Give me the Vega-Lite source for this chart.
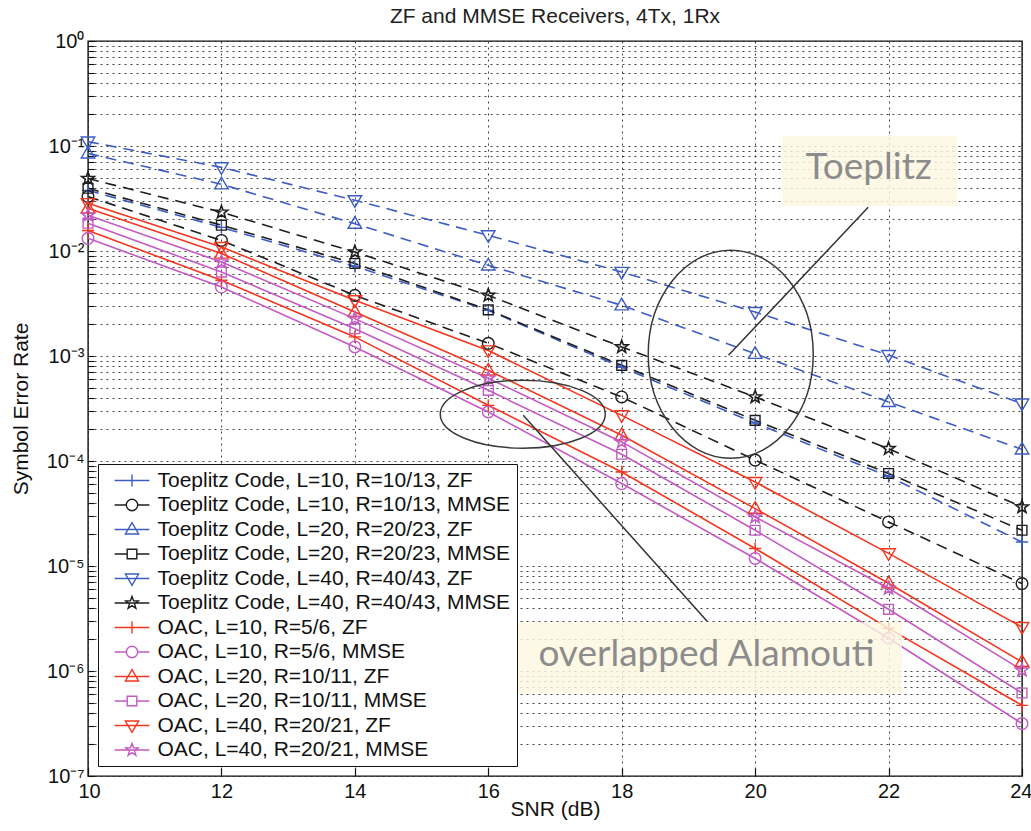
{
  "$schema": "https://vega.github.io/schema/vega-lite/v6.json",
  "width": 934,
  "height": 735,
  "autosize": {"type": "none"},
  "padding": {"left": 88, "top": 41, "right": 9, "bottom": 55},
  "background": "white",
  "config": {
    "font": "Liberation Sans",
    "view": {"stroke": "#111", "strokeWidth": 1.4}
  },
  "title": {
    "text": "ZF and MMSE Receivers, 4Tx, 1Rx",
    "font": "Liberation Sans",
    "fontSize": 21,
    "fontWeight": "normal",
    "color": "#222",
    "anchor": "middle",
    "offset": 4
  },
  "datasets": {
    "ser": [
      {"series": "Toeplitz Code, L=10, R=10/13, ZF", "snr": 10, "ser": 0.0378},
      {"series": "Toeplitz Code, L=10, R=10/13, ZF", "snr": 12, "ser": 0.0168},
      {"series": "Toeplitz Code, L=10, R=10/13, ZF", "snr": 14, "ser": 0.00715},
      {"series": "Toeplitz Code, L=10, R=10/13, ZF", "snr": 16, "ser": 0.00272},
      {"series": "Toeplitz Code, L=10, R=10/13, ZF", "snr": 18, "ser": 0.00078},
      {"series": "Toeplitz Code, L=10, R=10/13, ZF", "snr": 20, "ser": 0.00023},
      {"series": "Toeplitz Code, L=10, R=10/13, ZF", "snr": 22, "ser": 0.0000715},
      {"series": "Toeplitz Code, L=10, R=10/13, ZF", "snr": 24, "ser": 0.0000169},
      {"series": "Toeplitz Code, L=10, R=10/13, MMSE", "snr": 10, "ser": 0.033},
      {"series": "Toeplitz Code, L=10, R=10/13, MMSE", "snr": 12, "ser": 0.0126},
      {"series": "Toeplitz Code, L=10, R=10/13, MMSE", "snr": 14, "ser": 0.00378},
      {"series": "Toeplitz Code, L=10, R=10/13, MMSE", "snr": 16, "ser": 0.00132},
      {"series": "Toeplitz Code, L=10, R=10/13, MMSE", "snr": 18, "ser": 0.000407},
      {"series": "Toeplitz Code, L=10, R=10/13, MMSE", "snr": 20, "ser": 0.000102},
      {"series": "Toeplitz Code, L=10, R=10/13, MMSE", "snr": 22, "ser": 0.0000263},
      {"series": "Toeplitz Code, L=10, R=10/13, MMSE", "snr": 24, "ser": 0.0000068},
      {"series": "Toeplitz Code, L=20, R=20/23, ZF", "snr": 10, "ser": 0.085},
      {"series": "Toeplitz Code, L=20, R=20/23, ZF", "snr": 12, "ser": 0.0432},
      {"series": "Toeplitz Code, L=20, R=20/23, ZF", "snr": 14, "ser": 0.0182},
      {"series": "Toeplitz Code, L=20, R=20/23, ZF", "snr": 16, "ser": 0.0073},
      {"series": "Toeplitz Code, L=20, R=20/23, ZF", "snr": 18, "ser": 0.00304},
      {"series": "Toeplitz Code, L=20, R=20/23, ZF", "snr": 20, "ser": 0.00105},
      {"series": "Toeplitz Code, L=20, R=20/23, ZF", "snr": 22, "ser": 0.000365},
      {"series": "Toeplitz Code, L=20, R=20/23, ZF", "snr": 24, "ser": 0.000129},
      {"series": "Toeplitz Code, L=20, R=20/23, MMSE", "snr": 10, "ser": 0.0396},
      {"series": "Toeplitz Code, L=20, R=20/23, MMSE", "snr": 12, "ser": 0.0176},
      {"series": "Toeplitz Code, L=20, R=20/23, MMSE", "snr": 14, "ser": 0.0076},
      {"series": "Toeplitz Code, L=20, R=20/23, MMSE", "snr": 16, "ser": 0.00275},
      {"series": "Toeplitz Code, L=20, R=20/23, MMSE", "snr": 18, "ser": 0.000815},
      {"series": "Toeplitz Code, L=20, R=20/23, MMSE", "snr": 20, "ser": 0.000244},
      {"series": "Toeplitz Code, L=20, R=20/23, MMSE", "snr": 22, "ser": 0.000076},
      {"series": "Toeplitz Code, L=20, R=20/23, MMSE", "snr": 24, "ser": 0.0000219},
      {"series": "Toeplitz Code, L=40, R=40/43, ZF", "snr": 10, "ser": 0.11},
      {"series": "Toeplitz Code, L=40, R=40/43, ZF", "snr": 12, "ser": 0.0626},
      {"series": "Toeplitz Code, L=40, R=40/43, ZF", "snr": 14, "ser": 0.0304},
      {"series": "Toeplitz Code, L=40, R=40/43, ZF", "snr": 16, "ser": 0.0141},
      {"series": "Toeplitz Code, L=40, R=40/43, ZF", "snr": 18, "ser": 0.00631},
      {"series": "Toeplitz Code, L=40, R=40/43, ZF", "snr": 20, "ser": 0.00262},
      {"series": "Toeplitz Code, L=40, R=40/43, ZF", "snr": 22, "ser": 0.00102},
      {"series": "Toeplitz Code, L=40, R=40/43, ZF", "snr": 24, "ser": 0.000352},
      {"series": "Toeplitz Code, L=40, R=40/43, MMSE", "snr": 10, "ser": 0.049},
      {"series": "Toeplitz Code, L=40, R=40/43, MMSE", "snr": 12, "ser": 0.0234},
      {"series": "Toeplitz Code, L=40, R=40/43, MMSE", "snr": 14, "ser": 0.00977},
      {"series": "Toeplitz Code, L=40, R=40/43, MMSE", "snr": 16, "ser": 0.00378},
      {"series": "Toeplitz Code, L=40, R=40/43, MMSE", "snr": 18, "ser": 0.00122},
      {"series": "Toeplitz Code, L=40, R=40/43, MMSE", "snr": 20, "ser": 0.000407},
      {"series": "Toeplitz Code, L=40, R=40/43, MMSE", "snr": 22, "ser": 0.000131},
      {"series": "Toeplitz Code, L=40, R=40/43, MMSE", "snr": 24, "ser": 0.0000365},
      {"series": "OAC, L=10, R=5/6, ZF", "snr": 10, "ser": 0.0157},
      {"series": "OAC, L=10, R=5/6, ZF", "snr": 12, "ser": 0.00526},
      {"series": "OAC, L=10, R=5/6, ZF", "snr": 14, "ser": 0.00152},
      {"series": "OAC, L=10, R=5/6, ZF", "snr": 16, "ser": 0.000339},
      {"series": "OAC, L=10, R=5/6, ZF", "snr": 18, "ser": 0.0000786},
      {"series": "OAC, L=10, R=5/6, ZF", "snr": 20, "ser": 0.0000147},
      {"series": "OAC, L=10, R=5/6, ZF", "snr": 22, "ser": 0.00000255},
      {"series": "OAC, L=10, R=5/6, ZF", "snr": 24, "ser": 0.000000471},
      {"series": "OAC, L=10, R=5/6, MMSE", "snr": 10, "ser": 0.0132},
      {"series": "OAC, L=10, R=5/6, MMSE", "snr": 12, "ser": 0.00454},
      {"series": "OAC, L=10, R=5/6, MMSE", "snr": 14, "ser": 0.00122},
      {"series": "OAC, L=10, R=5/6, MMSE", "snr": 16, "ser": 0.000293},
      {"series": "OAC, L=10, R=5/6, MMSE", "snr": 18, "ser": 0.000061},
      {"series": "OAC, L=10, R=5/6, MMSE", "snr": 20, "ser": 0.0000118},
      {"series": "OAC, L=10, R=5/6, MMSE", "snr": 22, "ser": 0.00000205},
      {"series": "OAC, L=10, R=5/6, MMSE", "snr": 24, "ser": 0.000000316},
      {"series": "OAC, L=20, R=10/11, ZF", "snr": 10, "ser": 0.0255},
      {"series": "OAC, L=20, R=10/11, ZF", "snr": 12, "ser": 0.00946},
      {"series": "OAC, L=20, R=10/11, ZF", "snr": 14, "ser": 0.00263},
      {"series": "OAC, L=20, R=10/11, ZF", "snr": 16, "ser": 0.00073},
      {"series": "OAC, L=20, R=10/11, ZF", "snr": 18, "ser": 0.000176},
      {"series": "OAC, L=20, R=10/11, ZF", "snr": 20, "ser": 0.0000352},
      {"series": "OAC, L=20, R=10/11, ZF", "snr": 22, "ser": 0.00000684},
      {"series": "OAC, L=20, R=10/11, ZF", "snr": 24, "ser": 0.00000122},
      {"series": "OAC, L=20, R=10/11, MMSE", "snr": 10, "ser": 0.0184},
      {"series": "OAC, L=20, R=10/11, MMSE", "snr": 12, "ser": 0.0063},
      {"series": "OAC, L=20, R=10/11, MMSE", "snr": 14, "ser": 0.00182},
      {"series": "OAC, L=20, R=10/11, MMSE", "snr": 16, "ser": 0.000471},
      {"series": "OAC, L=20, R=10/11, MMSE", "snr": 18, "ser": 0.000116},
      {"series": "OAC, L=20, R=10/11, MMSE", "snr": 20, "ser": 0.0000219},
      {"series": "OAC, L=20, R=10/11, MMSE", "snr": 22, "ser": 0.00000387},
      {"series": "OAC, L=20, R=10/11, MMSE", "snr": 24, "ser": 0.000000617},
      {"series": "OAC, L=40, R=20/21, ZF", "snr": 10, "ser": 0.0285},
      {"series": "OAC, L=40, R=20/21, ZF", "snr": 12, "ser": 0.0109},
      {"series": "OAC, L=40, R=20/21, ZF", "snr": 14, "ser": 0.00339},
      {"series": "OAC, L=40, R=20/21, ZF", "snr": 16, "ser": 0.00113},
      {"series": "OAC, L=40, R=20/21, ZF", "snr": 18, "ser": 0.000272},
      {"series": "OAC, L=40, R=20/21, ZF", "snr": 20, "ser": 0.000063},
      {"series": "OAC, L=40, R=20/21, ZF", "snr": 22, "ser": 0.0000132},
      {"series": "OAC, L=40, R=20/21, ZF", "snr": 24, "ser": 0.00000262},
      {"series": "OAC, L=40, R=20/21, MMSE", "snr": 10, "ser": 0.0219},
      {"series": "OAC, L=40, R=20/21, MMSE", "snr": 12, "ser": 0.00786},
      {"series": "OAC, L=40, R=20/21, MMSE", "snr": 14, "ser": 0.00227},
      {"series": "OAC, L=40, R=20/21, MMSE", "snr": 16, "ser": 0.000614},
      {"series": "OAC, L=40, R=20/21, MMSE", "snr": 18, "ser": 0.000152},
      {"series": "OAC, L=40, R=20/21, MMSE", "snr": 20, "ser": 0.0000293},
      {"series": "OAC, L=40, R=20/21, MMSE", "snr": 22, "ser": 0.00000613},
      {"series": "OAC, L=40, R=20/21, MMSE", "snr": 24, "ser": 0.00000102}
    ],
    "notes": [
      {"text": "Toeplitz", "snr": 20.41, "snr_end": 23.03, "ser": 0.1237, "ser_end": 0.02667, "label_snr": 21.7, "label_ser": 0.0613},
      {"text": "overlapped Alamouti", "snr": 16.37, "snr_end": 22.2, "ser": 0.00000291, "ser_end": 0.000000613, "label_snr": 19.27, "label_ser": 0.00000141}
    ],
    "pointers": [
      {"snr": 21.695, "ser": 0.02607, "snr_end": 19.6, "ser_end": 0.001015},
      {"snr": 16.524, "ser": 0.000272, "snr_end": 19.28, "ser_end": 0.00000297}
    ],
    "toeplitzRegion": [{"snr": 19.634, "ser": 0.00104}],
    "alamoutiRegion": [{"snr": 16.517, "ser": 0.000279}]
  },
  "data": {"name": "ser"},
  "encoding": {
    "x": {
      "field": "snr",
      "type": "quantitative",
      "scale": {"domain": [10, 24], "nice": false, "zero": false},
      "axis": {
        "title": "SNR (dB)",
        "values": [10, 12, 14, 16, 18, 20, 22, 24],
        "format": "d",
        "grid": true,
        "gridColor": "#222",
        "gridDash": [2, 4],
        "gridOpacity": 0.85,
        "domain": false,
        "ticks": true,
        "tickSize": -8,
        "tickColor": "#111",
        "tickWidth": 1.2,
        "labelFont": "Liberation Sans",
        "labelFontSize": 20,
        "labelColor": "#111",
        "labelPadding": 13,
        "labelFlush": true,
        "labelFlushOffset": 10,
        "titleFont": "Liberation Sans",
        "titleFontSize": 21,
        "titleFontWeight": "normal",
        "titleColor": "#111",
        "titlePadding": -3
      }
    },
    "y": {
      "field": "ser",
      "type": "quantitative",
      "scale": {"type": "log", "domain": [0.0000001, 1], "nice": false},
      "axis": {
        "title": "Symbol Error Rate",
        "values": [0.0000001, 0.0000002, 0.0000003, 0.0000004, 0.0000005, 0.0000006, 0.0000007, 0.0000008, 0.0000009,
                   0.000001, 0.000002, 0.000003, 0.000004, 0.000005, 0.000006, 0.000007, 0.000008, 0.000009,
                   0.00001, 0.00002, 0.00003, 0.00004, 0.00005, 0.00006, 0.00007, 0.00008, 0.00009,
                   0.0001, 0.0002, 0.0003, 0.0004, 0.0005, 0.0006, 0.0007, 0.0008, 0.0009,
                   0.001, 0.002, 0.003, 0.004, 0.005, 0.006, 0.007, 0.008, 0.009,
                   0.01, 0.02, 0.03, 0.04, 0.05, 0.06, 0.07, 0.08, 0.09,
                   0.1, 0.2, 0.3, 0.4, 0.5, 0.6, 0.7, 0.8, 0.9, 1],
        "labelExpr": "datum.value == 1 ? '10⁰' : datum.value == 0.1 ? '10⁻¹' : datum.value == 0.01 ? '10⁻²' : datum.value == 0.001 ? '10⁻³' : datum.value == 0.0001 ? '10⁻⁴' : datum.value == 0.00001 ? '10⁻⁵' : datum.value == 0.000001 ? '10⁻⁶' : datum.value == 0.0000001 ? '10⁻⁷' : ''",
        "grid": true,
        "gridColor": "#222",
        "gridDash": [2, 4],
        "gridOpacity": 0.85,
        "domain": false,
        "ticks": true,
        "tickSize": -6,
        "tickColor": "#111",
        "tickWidth": 1.1,
        "labelOverlap": false,
        "labelBound": false,
        "labelFlush": false,
        "labelFont": "Liberation Sans",
        "labelFontSize": 20,
        "labelColor": "#111",
        "labelPadding": 10,
        "titleFont": "Liberation Sans",
        "titleFontSize": 21,
        "titleFontWeight": "normal",
        "titleColor": "#111",
        "titlePadding": 15
      }
    }
  },
  "layer": [
    {
      "transform": [{"filter": "indexof(datum.series, 'Toeplitz') >= 0 && indexof(datum.series, 'ZF') >= 0"}],
      "mark": {"type": "line", "stroke": "#3d5cc4", "strokeWidth": 1.6, "strokeDash": [11, 7]},
      "encoding": {"detail": {"field": "series", "type": "nominal"}}
    },
    {
      "transform": [{"filter": "indexof(datum.series, 'Toeplitz') >= 0 && indexof(datum.series, 'MMSE') >= 0"}],
      "mark": {"type": "line", "stroke": "#1e1e1e", "strokeWidth": 1.6, "strokeDash": [11, 7]},
      "encoding": {"detail": {"field": "series", "type": "nominal"}}
    },
    {
      "transform": [{"filter": "indexof(datum.series, 'OAC') >= 0 && indexof(datum.series, 'ZF') >= 0"}],
      "mark": {"type": "line", "stroke": "#f5361f", "strokeWidth": 1.6},
      "encoding": {"detail": {"field": "series", "type": "nominal"}}
    },
    {
      "transform": [{"filter": "indexof(datum.series, 'OAC') >= 0 && indexof(datum.series, 'MMSE') >= 0"}],
      "mark": {"type": "line", "stroke": "#c45ac4", "strokeWidth": 1.6},
      "encoding": {"detail": {"field": "series", "type": "nominal"}}
    },
    {
      "transform": [{"filter": "indexof(datum.series, 'L=10,') >= 0 && indexof(datum.series, 'ZF') >= 0"}],
      "mark": {"type": "point", "filled": false, "size": 150, "strokeWidth": 1.4, "opacity": 1, "shape": "M -1 0 L 1 0 M 0 -1 L 0 1"},
      "encoding": {"color": {"field": "series", "type": "nominal"}}
    },
    {
      "transform": [{"filter": "indexof(datum.series, 'L=10,') >= 0 && indexof(datum.series, 'MMSE') >= 0"}],
      "mark": {"type": "point", "filled": false, "size": 150, "strokeWidth": 1.4, "opacity": 1, "shape": "M -0.95 0 A 0.95 0.95 0 1 1 0.95 0 A 0.95 0.95 0 1 1 -0.95 0 Z"},
      "encoding": {"color": {"field": "series", "type": "nominal"}}
    },
    {
      "transform": [{"filter": "indexof(datum.series, 'L=20,') >= 0 && indexof(datum.series, 'ZF') >= 0"}],
      "mark": {"type": "point", "filled": false, "size": 150, "strokeWidth": 1.4, "opacity": 1, "shape": "M 0 -1.15 L 1.1 0.75 L -1.1 0.75 Z"},
      "encoding": {"color": {"field": "series", "type": "nominal"}}
    },
    {
      "transform": [{"filter": "indexof(datum.series, 'L=20,') >= 0 && indexof(datum.series, 'MMSE') >= 0"}],
      "mark": {"type": "point", "filled": false, "size": 150, "strokeWidth": 1.4, "opacity": 1, "shape": "M -0.8 -0.8 L 0.8 -0.8 L 0.8 0.8 L -0.8 0.8 Z"},
      "encoding": {"color": {"field": "series", "type": "nominal"}}
    },
    {
      "transform": [{"filter": "indexof(datum.series, 'L=40,') >= 0 && indexof(datum.series, 'ZF') >= 0"}],
      "mark": {"type": "point", "filled": false, "size": 150, "strokeWidth": 1.4, "opacity": 1, "shape": "M 0 1.15 L 1.1 -0.75 L -1.1 -0.75 Z"},
      "encoding": {"color": {"field": "series", "type": "nominal"}}
    },
    {
      "transform": [{"filter": "indexof(datum.series, 'L=40,') >= 0 && indexof(datum.series, 'MMSE') >= 0"}],
      "mark": {"type": "point", "filled": false, "size": 150, "strokeWidth": 1.6, "opacity": 1, "shape": "M 0 -1.1 L 0.2645 -0.364 L 1.046 -0.34 L 0.428 0.139 L 0.647 0.89 L 0 0.45 L -0.647 0.89 L -0.428 0.139 L -1.046 -0.34 L -0.2645 -0.364 Z"},
      "encoding": {"color": {"field": "series", "type": "nominal"}}
    },
    {
      "data": {"name": "toeplitzRegion"},
      "mark": {"type": "point", "filled": false, "stroke": "#3a3a3a", "strokeWidth": 1.5, "opacity": 1, "size": 40000, "shape": "M -0.825 0 A 0.825 1.04 0 1 1 0.825 0 A 0.825 1.04 0 1 1 -0.825 0 Z"}
    },
    {
      "data": {"name": "alamoutiRegion"},
      "mark": {"type": "point", "filled": false, "stroke": "#3a3a3a", "strokeWidth": 1.5, "opacity": 1, "size": 40000, "shape": "M -0.825 0 A 0.825 0.34 0 1 1 0.825 0 A 0.825 0.34 0 1 1 -0.825 0 Z"}
    },
    {
      "data": {"name": "pointers"},
      "mark": {"type": "rule", "stroke": "#333", "strokeWidth": 1.5},
      "encoding": {"x2": {"field": "snr_end"}, "y2": {"field": "ser_end"}}
    },
    {
      "data": {"name": "notes"},
      "mark": {"type": "rect", "fill": "#fcf8e0", "opacity": 0.82},
      "encoding": {"x2": {"field": "snr_end"}, "y2": {"field": "ser_end"}}
    },
    {
      "data": {"name": "notes"},
      "mark": {"type": "text", "font": "Lato", "fontSize": 37, "color": "#8c8c8c", "align": "center", "baseline": "middle"},
      "encoding": {
        "x": {"field": "label_snr", "type": "quantitative"},
        "y": {"field": "label_ser", "type": "quantitative"},
        "text": {"field": "text"}
      }
    },
    {
      "data": {"values": []},
      "mark": {"type": "point", "filled": false, "strokeWidth": 1.4},
      "encoding": {
        "color": {
          "field": "series",
          "type": "nominal",
          "scale": {
            "domain": [
              "Toeplitz Code, L=10, R=10/13, ZF", "Toeplitz Code, L=10, R=10/13, MMSE",
              "Toeplitz Code, L=20, R=20/23, ZF", "Toeplitz Code, L=20, R=20/23, MMSE",
              "Toeplitz Code, L=40, R=40/43, ZF", "Toeplitz Code, L=40, R=40/43, MMSE",
              "OAC, L=10, R=5/6, ZF", "OAC, L=10, R=5/6, MMSE",
              "OAC, L=20, R=10/11, ZF", "OAC, L=20, R=10/11, MMSE",
              "OAC, L=40, R=20/21, ZF", "OAC, L=40, R=20/21, MMSE"
            ],
            "range": ["#3d5cc4", "#1e1e1e", "#3d5cc4", "#1e1e1e", "#3d5cc4", "#1e1e1e",
                      "#f5361f", "#c45ac4", "#f5361f", "#c45ac4", "#f5361f", "#c45ac4"]
          },
          "legend": {
            "title": null,
            "orient": "bottom-left",
            "offset": 10,
            "padding": 6,
            "fillColor": "#ffffff",
            "strokeColor": "#111",
            "symbolSize": 144,
            "symbolStrokeWidth": 1.4,
            "symbolFillColor": "transparent",
            "symbolOffset": 17.5,
            "labelOffset": 15,
            "labelFont": "Liberation Sans",
            "labelFontSize": 21,
            "labelColor": "#111",
            "labelLimit": 0,
            "rowPadding": 2.5
          }
        },
        "shape": {
          "field": "series",
          "type": "nominal",
          "scale": {
            "domain": [
              "Toeplitz Code, L=10, R=10/13, ZF", "Toeplitz Code, L=10, R=10/13, MMSE",
              "Toeplitz Code, L=20, R=20/23, ZF", "Toeplitz Code, L=20, R=20/23, MMSE",
              "Toeplitz Code, L=40, R=40/43, ZF", "Toeplitz Code, L=40, R=40/43, MMSE",
              "OAC, L=10, R=5/6, ZF", "OAC, L=10, R=5/6, MMSE",
              "OAC, L=20, R=10/11, ZF", "OAC, L=20, R=10/11, MMSE",
              "OAC, L=40, R=20/21, ZF", "OAC, L=40, R=20/21, MMSE"
            ],
            "range": [
              "M -2.9 0 L 2.9 0 M 0 -1 L 0 1",
              "M -2.9 0 L -0.95 0 M 0.95 0 L 2.9 0 M -0.95 0 A 0.95 0.95 0 1 1 0.95 0 A 0.95 0.95 0 1 1 -0.95 0 Z",
              "M -2.9 0 L 2.9 0 M 0 -1.15 L 1.1 0.75 L -1.1 0.75 Z",
              "M -2.9 0 L -0.8 0 M 0.8 0 L 2.9 0 M -0.8 -0.8 L 0.8 -0.8 L 0.8 0.8 L -0.8 0.8 Z",
              "M -2.9 0 L 2.9 0 M 0 1.15 L 1.1 -0.75 L -1.1 -0.75 Z",
              "M -2.9 0 L 2.9 0 M 0 -1.1 L 0.2645 -0.364 L 1.046 -0.34 L 0.428 0.139 L 0.647 0.89 L 0 0.45 L -0.647 0.89 L -0.428 0.139 L -1.046 -0.34 L -0.2645 -0.364 Z",
              "M -2.9 0 L 2.9 0 M 0 -1 L 0 1",
              "M -2.9 0 L -0.95 0 M 0.95 0 L 2.9 0 M -0.95 0 A 0.95 0.95 0 1 1 0.95 0 A 0.95 0.95 0 1 1 -0.95 0 Z",
              "M -2.9 0 L 2.9 0 M 0 -1.15 L 1.1 0.75 L -1.1 0.75 Z",
              "M -2.9 0 L -0.8 0 M 0.8 0 L 2.9 0 M -0.8 -0.8 L 0.8 -0.8 L 0.8 0.8 L -0.8 0.8 Z",
              "M -2.9 0 L 2.9 0 M 0 1.15 L 1.1 -0.75 L -1.1 -0.75 Z",
              "M -2.9 0 L 2.9 0 M 0 -1.1 L 0.2645 -0.364 L 1.046 -0.34 L 0.428 0.139 L 0.647 0.89 L 0 0.45 L -0.647 0.89 L -0.428 0.139 L -1.046 -0.34 L -0.2645 -0.364 Z"
            ]
          },
          "legend": {
            "title": null,
            "orient": "bottom-left",
            "offset": 10,
            "padding": 6,
            "fillColor": "#ffffff",
            "strokeColor": "#111",
            "symbolSize": 144,
            "symbolStrokeWidth": 1.4,
            "symbolFillColor": "transparent",
            "symbolOffset": 17.5,
            "labelOffset": 15,
            "labelFont": "Liberation Sans",
            "labelFontSize": 21,
            "labelColor": "#111",
            "labelLimit": 0,
            "rowPadding": 2.5
          }
        }
      }
    }
  ]
}
